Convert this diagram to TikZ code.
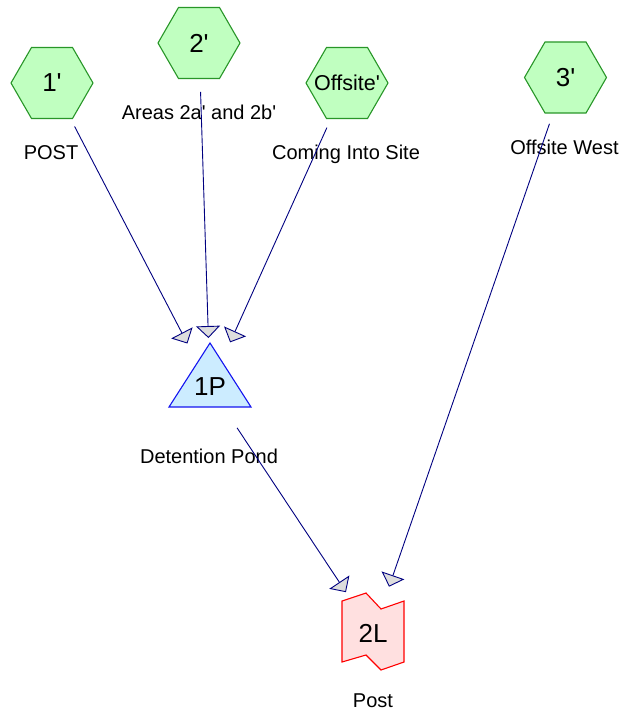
\documentclass[tikz,border=0pt]{standalone}
\usepackage{fontspec}
\setmainfont{Liberation Sans}
\usetikzlibrary{arrows.meta,shapes.geometric}
\definecolor{hexfill}{RGB}{192,255,192}
\definecolor{hexdraw}{RGB}{40,150,40}
\definecolor{trifill}{RGB}{204,236,255}
\definecolor{tridraw}{RGB}{20,20,240}
\definecolor{lfill}{RGB}{255,224,224}
\definecolor{ldraw}{RGB}{255,0,0}
\definecolor{conncol}{RGB}{0,0,128}
\definecolor{tipfill}{RGB}{221,221,221}
\newcommand{\sq}{\textquotesingle}
\begin{document}
\begin{tikzpicture}[x=1pt,y=-1pt,
  hexnode/.style={regular polygon, regular polygon sides=6, minimum size=82pt, inner sep=0pt,
    draw=hexdraw, fill=hexfill, line width=1.1pt},
  bigtext/.style={font=\fontsize{26}{28}\selectfont},
  midtext/.style={font=\fontsize{21.5}{24}\selectfont},
  lbl/.style={font=\fontsize{20}{24}\selectfont, anchor=base, inner sep=0pt},
  conn/.style={draw=conncol, line width=0.9pt, shorten <=49pt, shorten >=49pt,
    -{Triangle[length=12pt,width=24pt,fill=tipfill,line width=0.9pt]}},
]
\useasboundingbox (0,0) rectangle (633,717);

% hexagons
\node[hexnode, label={[bigtext]center:1\sq}] (h1) at (52,83) {};
\node[hexnode, label={[bigtext]center:2\sq}] (h2) at (199,43) {};
\node[hexnode, label={[midtext]center:Offsite\sq}] (ho) at (347,83) {};
\node[hexnode, label={[bigtext]center:3\sq}] (h3) at (565.5,77.5) {};

% triangle 1P
\draw[draw=tridraw, fill=trifill, line width=1.1pt] (210,343) -- (251,407) -- (169,407) -- cycle;
\node[bigtext, inner sep=0pt] (p1) at (210,387) {1P};

% 2L shape
\draw[draw=ldraw, fill=lfill, line width=1.1pt]
  (342,601) -- (366,593) -- (381,609) -- (404,601) -- (404,662) -- (381,670) -- (366,655) -- (342,662) -- cycle;
\node[bigtext, inner sep=0pt] (l2) at (373,633) {2L};

% labels
\node[lbl] (t1) at (51,159) {POST};
\node[lbl] (t2) at (199,119) {Areas 2a\sq{} and 2b\sq};
\node[lbl] (to) at (346,159) {Coming Into Site};
\node[lbl] (t3) at (564.5,154) {Offsite West};
\node[lbl] (tp) at (209,463) {Detention Pond};
\node[lbl] (tl) at (373,707) {Post};

% connectors
\draw[conn] (h1.center) -- (p1.center);
\draw[conn] (h2.center) -- (p1.center);
\draw[conn] (ho.center) -- (p1.center);
\draw[conn] (p1.center) -- (l2.center);
\draw[conn] (h3.center) -- (l2.center);
\end{tikzpicture}
\end{document}
